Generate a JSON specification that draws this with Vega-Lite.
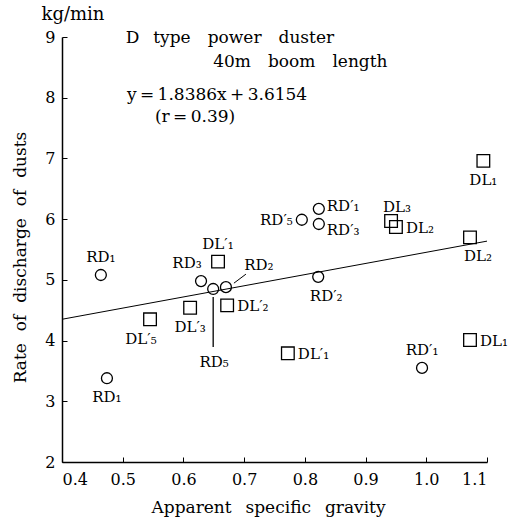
{
  "$schema": "https://vega.github.io/schema/vega-lite/v6.json",
  "width": 425,
  "height": 425,
  "autosize": {"type": "none"},
  "padding": {"left": 62, "top": 37, "right": 32, "bottom": 60},
  "background": "white",
  "config": {
    "view": {"stroke": null},
    "font": "DejaVu Serif",
    "text": {"font": "DejaVu Serif", "color": "black"},
    "axis": {
      "grid": false,
      "domainColor": "black",
      "domainWidth": 1.5,
      "tickColor": "black",
      "tickWidth": 1,
      "tickSize": -5,
      "labelFont": "DejaVu Serif",
      "labelFontSize": 16,
      "labelColor": "black",
      "titleFont": "DejaVu Serif",
      "titleFontSize": 17,
      "titleFontWeight": "normal",
      "titleColor": "black"
    }
  },
  "datasets": {
    "pts": [
      {"series": "RD", "label": "RD₁", "x": 0.464, "y": 5.08, "place": "above"},
      {"series": "RD", "label": "RD₁", "x": 0.474, "y": 3.38, "place": "below"},
      {"series": "DL", "label": "DL′₅", "x": 0.545, "y": 4.35, "place": "belowleft"},
      {"series": "DL", "label": "DL′₃", "x": 0.611, "y": 4.54, "place": "below"},
      {"series": "RD", "label": "RD₃", "x": 0.629, "y": 4.98, "place": "aboveleft"},
      {"series": "RD", "label": "RD₅", "x": 0.649, "y": 4.85, "place": "farbelow"},
      {"series": "RD", "label": "RD₂", "x": 0.670, "y": 4.88, "place": "upright"},
      {"series": "DL", "label": "DL′₁", "x": 0.657, "y": 5.30, "place": "above"},
      {"series": "DL", "label": "DL′₂", "x": 0.672, "y": 4.58, "place": "right"},
      {"series": "DL", "label": "DL′₁", "x": 0.772, "y": 3.79, "place": "right"},
      {"series": "RD", "label": "RD′₅", "x": 0.795, "y": 5.99, "place": "left"},
      {"series": "RD", "label": "RD′₁", "x": 0.823, "y": 6.17, "place": "rightup"},
      {"series": "RD", "label": "RD′₃", "x": 0.823, "y": 5.92, "place": "rightdown"},
      {"series": "RD", "label": "RD′₂", "x": 0.822, "y": 5.05, "place": "belowright"},
      {"series": "DL", "label": "DL₃", "x": 0.942, "y": 5.97, "place": "aboveright"},
      {"series": "DL", "label": "DL₂", "x": 0.950, "y": 5.87, "place": "right"},
      {"series": "RD", "label": "RD′₁", "x": 0.993, "y": 3.55, "place": "above"},
      {"series": "DL", "label": "DL₁", "x": 1.094, "y": 6.96, "place": "below"},
      {"series": "DL", "label": "DL₂", "x": 1.072, "y": 5.70, "place": "belowright"},
      {"series": "DL", "label": "DL₁", "x": 1.072, "y": 4.01, "place": "right"}
    ],
    "fit": [
      {"x": 0.4, "y": 4.3508},
      {"x": 1.1, "y": 5.6379}
    ]
  },
  "layer": [
    {
      "data": {"name": "fit"},
      "mark": {"type": "line", "color": "black", "strokeWidth": 1},
      "encoding": {
        "x": {
          "field": "x", "type": "quantitative",
          "scale": {"domain": [0.4, 1.1], "nice": false, "zero": false},
          "axis": {
            "values": [0.4, 0.5, 0.6, 0.7, 0.8, 0.9, 1.0, 1.1],
            "format": ".1f",
            "labelPadding": 14,
            "title": "Apparent\u2002 specific\u2002 gravity",
            "titleX": 206,
            "titleY": 45,
            "titleBaseline": "middle",
            "titleAlign": "center"
          }
        },
        "y": {
          "field": "y", "type": "quantitative",
          "scale": {"domain": [2, 9], "nice": false, "zero": false},
          "axis": {
            "values": [2, 3, 4, 5, 6, 7, 8, 9],
            "format": "d",
            "labelPadding": 12,
            "title": "Rate\u2002\u2009of\u2002\u2009discharge\u2002\u2009of\u2002\u2009dusts",
            "titleX": -42,
            "titleY": 220,
            "titleAngle": -90,
            "titleBaseline": "middle",
            "titleAlign": "center"
          }
        }
      }
    },
    {
      "data": {"name": "pts"},
      "transform": [{"filter": "datum.series === 'RD'"}],
      "mark": {"type": "point", "shape": "circle", "filled": false, "color": "black", "strokeWidth": 1.3, "size": 120, "opacity": 1},
      "encoding": {"x": {"field": "x", "type": "quantitative"}, "y": {"field": "y", "type": "quantitative"}}
    },
    {
      "data": {"name": "pts"},
      "transform": [{"filter": "datum.series === 'DL'"}],
      "mark": {"type": "point", "shape": "square", "filled": false, "color": "black", "strokeWidth": 1.3, "size": 160, "opacity": 1},
      "encoding": {"x": {"field": "x", "type": "quantitative"}, "y": {"field": "y", "type": "quantitative"}}
    },
    {
      "data": {"name": "pts"},
      "transform": [{"filter": "datum.place === 'farbelow'"}],
      "mark": {"type": "rule", "color": "black", "strokeWidth": 1.3, "yOffset": 8, "y2Offset": 58},
      "encoding": {"x": {"field": "x", "type": "quantitative"}, "y": {"field": "y", "type": "quantitative"}, "y2": {"field": "y"}}
    },
    {
      "data": {"name": "pts"},
      "transform": [{"filter": "datum.place === 'upright'"}],
      "mark": {"type": "rule", "color": "black", "strokeWidth": 1, "xOffset": 8, "yOffset": -4, "x2Offset": 20, "y2Offset": -13},
      "encoding": {"x": {"field": "x", "type": "quantitative"}, "y": {"field": "y", "type": "quantitative"}, "x2": {"field": "x"}, "y2": {"field": "y"}}
    },
    {"data": {"name": "pts"}, "transform": [{"filter": "datum.place === 'above'"}],
     "mark": {"type": "text", "fontSize": 15, "align": "center", "baseline": "middle", "dx": 0, "dy": -18},
     "encoding": {"x": {"field": "x", "type": "quantitative"}, "y": {"field": "y", "type": "quantitative"}, "text": {"field": "label"}}},
    {"data": {"name": "pts"}, "transform": [{"filter": "datum.place === 'aboveright'"}],
     "mark": {"type": "text", "fontSize": 15, "align": "center", "baseline": "middle", "dx": 6, "dy": -14},
     "encoding": {"x": {"field": "x", "type": "quantitative"}, "y": {"field": "y", "type": "quantitative"}, "text": {"field": "label"}}},
    {"data": {"name": "pts"}, "transform": [{"filter": "datum.place === 'below'"}],
     "mark": {"type": "text", "fontSize": 15, "align": "center", "baseline": "middle", "dx": 0, "dy": 19},
     "encoding": {"x": {"field": "x", "type": "quantitative"}, "y": {"field": "y", "type": "quantitative"}, "text": {"field": "label"}}},
    {"data": {"name": "pts"}, "transform": [{"filter": "datum.place === 'belowright'"}],
     "mark": {"type": "text", "fontSize": 15, "align": "center", "baseline": "middle", "dx": 8, "dy": 19},
     "encoding": {"x": {"field": "x", "type": "quantitative"}, "y": {"field": "y", "type": "quantitative"}, "text": {"field": "label"}}},
    {"data": {"name": "pts"}, "transform": [{"filter": "datum.place === 'belowleft'"}],
     "mark": {"type": "text", "fontSize": 15, "align": "center", "baseline": "middle", "dx": -9, "dy": 20},
     "encoding": {"x": {"field": "x", "type": "quantitative"}, "y": {"field": "y", "type": "quantitative"}, "text": {"field": "label"}}},
    {"data": {"name": "pts"}, "transform": [{"filter": "datum.place === 'aboveleft'"}],
     "mark": {"type": "text", "fontSize": 15, "align": "center", "baseline": "middle", "dx": -14, "dy": -18},
     "encoding": {"x": {"field": "x", "type": "quantitative"}, "y": {"field": "y", "type": "quantitative"}, "text": {"field": "label"}}},
    {"data": {"name": "pts"}, "transform": [{"filter": "datum.place === 'farbelow'"}],
     "mark": {"type": "text", "fontSize": 15, "align": "center", "baseline": "middle", "dx": 1, "dy": 73},
     "encoding": {"x": {"field": "x", "type": "quantitative"}, "y": {"field": "y", "type": "quantitative"}, "text": {"field": "label"}}},
    {"data": {"name": "pts"}, "transform": [{"filter": "datum.place === 'upright'"}],
     "mark": {"type": "text", "fontSize": 15, "align": "center", "baseline": "middle", "dx": 33, "dy": -22},
     "encoding": {"x": {"field": "x", "type": "quantitative"}, "y": {"field": "y", "type": "quantitative"}, "text": {"field": "label"}}},
    {"data": {"name": "pts"}, "transform": [{"filter": "datum.place === 'right'"}],
     "mark": {"type": "text", "fontSize": 15, "align": "left", "baseline": "middle", "dx": 10, "dy": 1},
     "encoding": {"x": {"field": "x", "type": "quantitative"}, "y": {"field": "y", "type": "quantitative"}, "text": {"field": "label"}}},
    {"data": {"name": "pts"}, "transform": [{"filter": "datum.place === 'rightup'"}],
     "mark": {"type": "text", "fontSize": 15, "align": "left", "baseline": "middle", "dx": 8, "dy": -3},
     "encoding": {"x": {"field": "x", "type": "quantitative"}, "y": {"field": "y", "type": "quantitative"}, "text": {"field": "label"}}},
    {"data": {"name": "pts"}, "transform": [{"filter": "datum.place === 'rightdown'"}],
     "mark": {"type": "text", "fontSize": 15, "align": "left", "baseline": "middle", "dx": 8, "dy": 6},
     "encoding": {"x": {"field": "x", "type": "quantitative"}, "y": {"field": "y", "type": "quantitative"}, "text": {"field": "label"}}},
    {"data": {"name": "pts"}, "transform": [{"filter": "datum.place === 'left'"}],
     "mark": {"type": "text", "fontSize": 15, "align": "right", "baseline": "middle", "dx": -9, "dy": 0},
     "encoding": {"x": {"field": "x", "type": "quantitative"}, "y": {"field": "y", "type": "quantitative"}, "text": {"field": "label"}}},
    {"data": {"values": [{}]},
     "mark": {"type": "text", "fontSize": 18, "align": "center", "baseline": "middle", "text": "kg/min"},
     "encoding": {"x": {"datum": 0.418}, "y": {"datum": 9.36}}},
    {"data": {"values": [{}]},
     "mark": {"type": "text", "fontSize": 17, "align": "left", "baseline": "middle", "text": "D\u2002 type\u2003power\u2003duster"},
     "encoding": {"x": {"datum": 0.505}, "y": {"datum": 8.98}}},
    {"data": {"values": [{}]},
     "mark": {"type": "text", "fontSize": 17, "align": "left", "baseline": "middle", "text": "40m\u2003boom\u2003length"},
     "encoding": {"x": {"datum": 0.649}, "y": {"datum": 8.59}}},
    {"data": {"values": [{}]},
     "mark": {"type": "text", "fontSize": 17, "align": "left", "baseline": "middle", "text": "y\u2009=\u20091.8386x\u2009+\u20093.6154"},
     "encoding": {"x": {"datum": 0.507}, "y": {"datum": 8.04}}},
    {"data": {"values": [{}]},
     "mark": {"type": "text", "fontSize": 17, "align": "left", "baseline": "middle", "text": "(r\u2009=\u20090.39)"},
     "encoding": {"x": {"datum": 0.553}, "y": {"datum": 7.68}}}
  ]
}
